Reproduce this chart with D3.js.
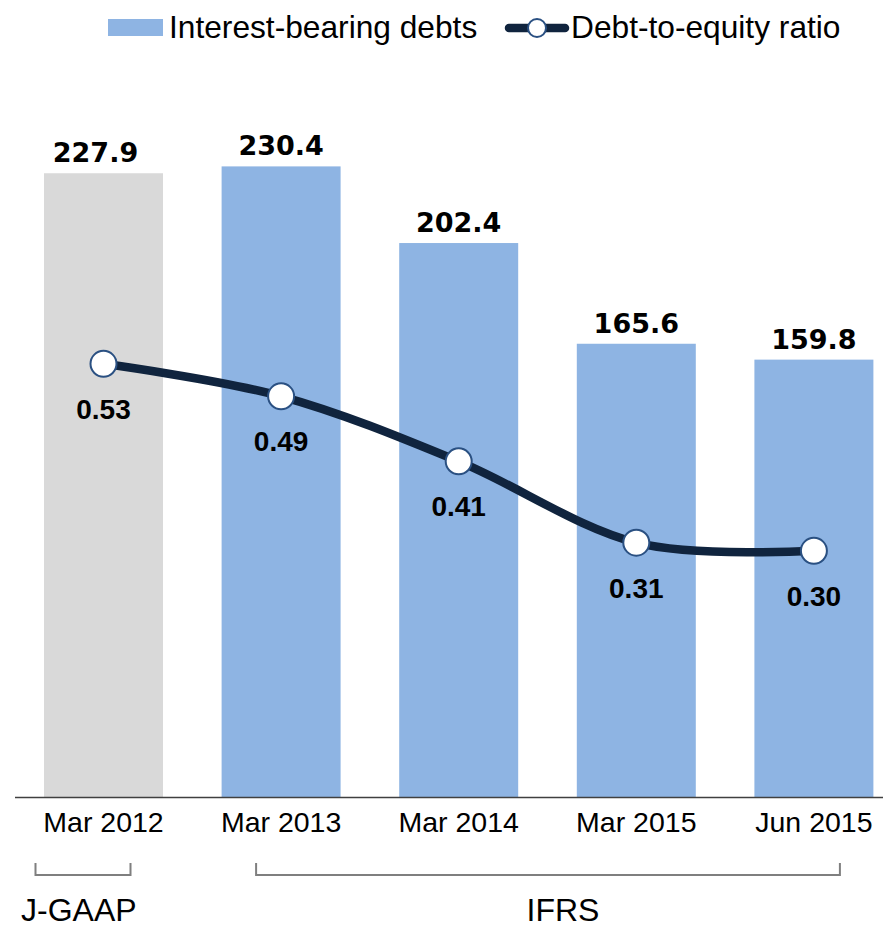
<!DOCTYPE html>
<html>
<head>
<meta charset="utf-8">
<script src="https://cdn.jsdelivr.net/npm/d3@7"></script>
<style>
  html, body { margin: 0; padding: 0; background: #fff; }
  svg { display: block; }
</style>
</head>
<body>
<svg id="chart" width="883" height="928"></svg>
<script>
// ---- data ----
const categories = ["Mar 2012", "Mar 2013", "Mar 2014", "Mar 2015", "Jun 2015"];
const debts = [227.9, 230.4, 202.4, 165.6, 159.8];
const debtLabels = ["227.9", "230.4", "202.4", "165.6", "159.8"];
const ratios = [0.53, 0.49, 0.41, 0.31, 0.30];
const ratioLabels = ["0.53", "0.49", "0.41", "0.31", "0.30"];
const standards = ["J-GAAP", "IFRS", "IFRS", "IFRS", "IFRS"];
const seriesNames = ["Interest-bearing debts", "Debt-to-equity ratio"];

// ---- styles ----
const BLUE = "#8EB4E3", GREY = "#D9D9D9", NAVY = "#10243E", MARK = "#2A5082";
const svg = d3.select("#chart");

const x = d3.scaleBand().domain(categories).range([14.7, 902.7])
  .paddingInner(0.33).paddingOuter(0.165);
const y = d3.scaleLinear().domain([0, 280]).range([797, 797 - 280 * 2.737]);
const y2 = d3.scaleLinear().domain([0, 1]).range([794.7, 794.7 - 813]);

// bars
svg.append("g").selectAll("rect").data(categories).join("rect")
  .attr("x", d => x(d))
  .attr("width", x.bandwidth())
  .attr("y", (d, i) => y(debts[i]))
  .attr("height", (d, i) => y(0) - y(debts[i]))
  .attr("fill", (d, i) => standards[i] === "J-GAAP" ? GREY : BLUE);

// bar labels (first label sits slightly left of its bar in the original)
svg.append("g").selectAll("text").data(categories).join("text")
  .attr("x", (d, i) => x(d) + x.bandwidth() / 2 + (i === 0 ? -8 : 0))
  .attr("y", (d, i) => y(debts[i]) - 11)
  .attr("text-anchor", "middle")
  .attr("font-family", "DejaVu Sans")
  .attr("font-weight", "bold")
  .attr("font-size", 27)
  .attr("fill", "#000")
  .text((d, i) => debtLabels[i]);

// x axis
const xAxis = svg.append("g").attr("transform", `translate(0,${y(0)})`)
  .call(d3.axisBottom(x).tickSize(0).tickPadding(0));
xAxis.select(".domain").remove();
xAxis.selectAll("text")
  .attr("y", 35).attr("dy", null)
  .attr("font-family", "Liberation Sans, Arial, sans-serif")
  .attr("font-size", 28.5)
  .attr("fill", "#000");
svg.append("line")
  .attr("x1", 15).attr("x2", 902.7)
  .attr("y1", y(0) + 0.5).attr("y2", y(0) + 0.5)
  .attr("stroke", "#404040").attr("stroke-width", 1.5);

// line
const cx = d => x(d) + x.bandwidth() / 2;
const line = d3.line()
  .x((d, i) => cx(categories[i]))
  .y(d => y2(d))
  .curve(d3.curveCardinal.tension(0));
svg.append("path").datum(ratios)
  .attr("d", line)
  .attr("fill", "none")
  .attr("stroke", NAVY)
  .attr("stroke-width", 8.5)
  .attr("stroke-linecap", "round");

svg.append("g").selectAll("circle").data(ratios).join("circle")
  .attr("cx", (d, i) => cx(categories[i]))
  .attr("cy", d => y2(d))
  .attr("r", 13)
  .attr("fill", "#fff")
  .attr("stroke", MARK)
  .attr("stroke-width", 2);

svg.append("g").selectAll("text").data(ratios).join("text")
  .attr("x", (d, i) => cx(categories[i]))
  .attr("y", d => y2(d) + 55)
  .attr("text-anchor", "middle")
  .attr("font-family", "Liberation Sans, Arial, sans-serif")
  .attr("font-weight", "bold")
  .attr("font-size", 28)
  .attr("fill", "#000")
  .text((d, i) => ratioLabels[i]);

// standard brackets
const groups = [
  { name: "J-GAAP", x1: cx(categories[0]) - 68, x2: cx(categories[0]) + 27, tx: 21, anchor: "start" },
  { name: "IFRS", x1: cx(categories[1]) - 25, x2: cx(categories[4]) + 26, tx: 563, anchor: "middle" }
];
groups.forEach(g => {
  svg.append("path")
    .attr("d", `M${g.x1},863V875H${g.x2}V863`)
    .attr("fill", "none")
    .attr("stroke", "#7F7F7F")
    .attr("stroke-width", 2);
  svg.append("text")
    .attr("x", g.tx).attr("y", 921)
    .attr("text-anchor", g.anchor)
    .attr("font-family", "Liberation Sans, Arial, sans-serif")
    .attr("font-size", 32)
    .attr("fill", "#000")
    .text(g.name);
});

// legend
const lg = svg.append("g");
lg.append("rect").attr("x", 108).attr("y", 19).attr("width", 55).attr("height", 17).attr("fill", BLUE);
lg.append("text").attr("x", 169).attr("y", 38)
  .attr("font-family", "Liberation Sans, Arial, sans-serif").attr("font-size", 31.7)
  .attr("fill", "#000").text(seriesNames[0]);
lg.append("line").attr("x1", 509).attr("x2", 565).attr("y1", 28).attr("y2", 28)
  .attr("stroke", NAVY).attr("stroke-width", 8.5).attr("stroke-linecap", "round");
lg.append("circle").attr("cx", 537).attr("cy", 28).attr("r", 9)
  .attr("fill", "#fff").attr("stroke", MARK).attr("stroke-width", 2);
lg.append("text").attr("x", 571).attr("y", 38)
  .attr("font-family", "Liberation Sans, Arial, sans-serif").attr("font-size", 31.7)
  .attr("fill", "#000").text(seriesNames[1]);
</script>
</body>
</html>
